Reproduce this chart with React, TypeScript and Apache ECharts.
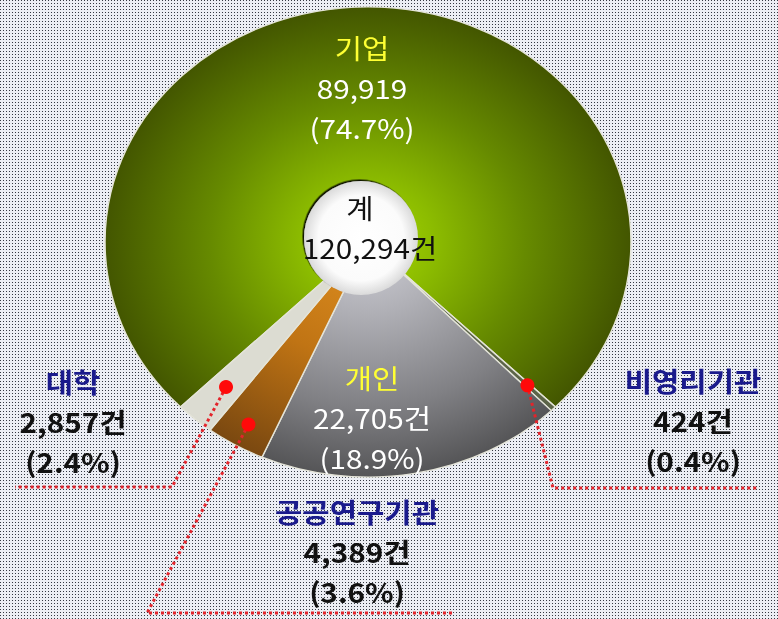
import React, { useEffect, useRef } from 'react';
import * as echarts from 'echarts';

// ---- data ----
const categories = ['기업', '비영리기관', '개인', '공공연구기관', '대학'];
const counts = [89919, 424, 22705, 4389, 2857];
const percents = [74.7, 0.4, 18.9, 3.6, 2.4];
const countSuffix = ['', '건', '건', '건', '건'];
const totalName = '계';
const totalCount = 120294;
const totalSuffix = '건';

// ---- layout / style ----
const W = 778;
const H = 619;
const CX = 368;
const CY = 242;
const RX = 263;
const RY = 235;
const FONT = '"Noto Sans CJK KR", "Noto Sans", sans-serif';
const LINE_GAP = 40;

const labelPos: number[][] = [
  [362, 47],
  [693, 380],
  [372, 377],
  [357, 511],
  [73, 381],
];
const nameColor = ['#ffff33', '#1a1a8c', '#ffff33', '#1a1a8c', '#1a1a8c'];
const valueColor = ['#ffffff', '#111111', '#ffffff', '#111111', '#111111'];
const nameBold = [false, true, false, true, true];

// leader lines: fraction of radius for the dot, then elbow and end points
const leaders: any[] = [
  null,
  { f: 0.86, points: [[553, 488], [757, 488]] },
  null,
  { f: 0.9, points: [[147, 613], [455, 613]] },
  { f: 0.82, points: [[172, 487], [15, 487]] },
];

const radial = (stops: [number, string][]) => ({
  type: 'radial',
  x: 0,
  y: 0,
  r: RX,
  global: true,
  colorStops: stops.map(([offset, color]) => ({ offset, color })),
});

const fills = [
  radial([[0, '#a8d800'], [0.25, '#8cbc00'], [0.6, '#668a00'], [1, '#435600']]),
  '#5c6448',
  radial([[0, '#d2d2da'], [0.3, '#b0b0b6'], [0.7, '#808084'], [1, '#555557']]),
  radial([[0, '#e09020'], [0.5, '#c07414'], [1, '#7a4810']]),
  '#dcdcd2',
];

const fmt = (n: number) => n.toLocaleString('en-US');

const textStyle = (text: string, fill: string, bold: boolean) => ({
  text,
  fill,
  fontFamily: FONT,
  fontSize: 27,
  fontWeight: bold ? 'bold' : 'normal',
  lineHeight: 32,
  textAlign: 'center',
  textVerticalAlign: 'middle',
  align: 'center',
  verticalAlign: 'middle',
});

const textEl = (x: number, y: number, text: string, fill: string, bold: boolean) => ({
  type: 'text',
  z: 100,
  x,
  y,
  scaleX: 1.1,
  style: textStyle(text, fill, bold),
});

export default function App() {
  const ref = useRef<HTMLDivElement>(null);

  useEffect(() => {
    if (!ref.current) return;
    const chart = echarts.init(ref.current, null, { renderer: 'svg', width: W, height: H });

    const sum = counts.reduce((a, b) => a + b, 0);
    const before: number[] = [];
    counts.reduce((acc, v, i) => {
      before[i] = acc;
      return acc + v;
    }, 0);
    const startDeg = -90 - (counts[0] / sum) * 180;

    const texts: any[] = [];
    categories.forEach((name, i) => {
      const [x, y] = labelPos[i];
      const dark = valueColor[i] !== '#ffffff';
      const lines = [
        { t: name, c: nameColor[i], b: nameBold[i] },
        { t: fmt(counts[i]) + countSuffix[i], c: valueColor[i], b: dark },
        { t: '(' + percents[i].toFixed(1) + '%)', c: valueColor[i], b: dark },
      ];
      lines.forEach((ln, k) => {
        texts.push(textEl(x, y + k * LINE_GAP, ln.t, ln.c, ln.b));
      });
    });

    const option: any = {
      animation: false,
      series: [
        {
          type: 'custom',
          coordinateSystem: 'none',
          silent: true,
          data: counts.map((v, i) => [v, before[i]]),
          renderItem: (params: any, api: any) => {
            const i = params.dataIndex;
            const v = api.value(0) as number;
            const b = api.value(1) as number;
            const a0 = ((startDeg + (b / sum) * 360) * Math.PI) / 180;
            const a1 = a0 + (v / sum) * Math.PI * 2;
            const children: any[] = [
              {
                type: 'sector',
                x: CX,
                y: CY,
                scaleY: RY / RX,
                shape: { cx: 0, cy: 0, r0: 0, r: RX, startAngle: a0, endAngle: a1, clockwise: true },
                style: { fill: fills[i], stroke: '#e4e4d8', lineWidth: 1.5 },
              },
            ];
            const lead = leaders[i];
            if (lead) {
              const mid = (a0 + a1) / 2;
              const px = CX + lead.f * RX * Math.cos(mid);
              const py = CY + lead.f * RY * Math.sin(mid);
              children.push({
                type: 'polyline',
                z2: 20,
                shape: { points: [[px, py], ...lead.points] },
                style: { stroke: '#e3242b', lineWidth: 3, lineDash: [3, 3], fill: null },
              });
              children.push({
                type: 'circle',
                z2: 21,
                shape: { cx: px, cy: py, r: 7 },
                style: { fill: '#ff0a0a' },
              });
            }
            return { type: 'group', children };
          },
        },
      ],
      graphic: [
        {
          type: 'circle',
          z: 90,
          shape: { cx: 361, cy: 238, r: 57 },
          style: {
            fill: {
              type: 'radial',
              x: 0.5,
              y: 0.5,
              r: 0.5,
              colorStops: [
                { offset: 0, color: '#ffffff' },
                { offset: 0.75, color: '#fbfbfb' },
                { offset: 1, color: '#dadada' },
              ],
            },
            shadowColor: 'rgba(0,0,0,0.9)',
            shadowBlur: 1,
            shadowOffsetX: -1.5,
            shadowOffsetY: -1.5,
          },
        },
        textEl(360, 207, totalName, '#111111', false),
        textEl(370, 247, fmt(totalCount) + totalSuffix, '#111111', false),
        ...texts,
      ],
    };

    chart.setOption(option);
    return () => chart.dispose();
  }, []);

  const bg =
    "url(\"data:image/svg+xml;utf8,<svg xmlns='http://www.w3.org/2000/svg' width='3' height='3'><rect width='3' height='3' fill='%23eceef4'/><rect width='1' height='1' fill='%23343842'/></svg>\")";

  return (
    <div
      style={{
        position: 'fixed',
        left: 0,
        top: 0,
        width: W,
        height: H,
        backgroundImage: bg,
        backgroundRepeat: 'repeat',
      }}
    >
      <div ref={ref} style={{ width: W, height: H }} />
    </div>
  );
}
